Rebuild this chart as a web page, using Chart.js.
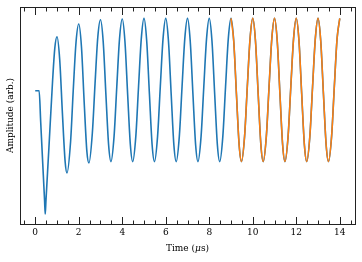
<!DOCTYPE html>
<html>
<head>
<meta charset="utf-8">
<script src="https://cdn.jsdelivr.net/npm/chart.js@4.4.1/dist/chart.umd.min.js"></script>
<style>
  html, body { margin: 0; padding: 0; background: #fff; }
  #wrap { width: 362px; height: 262px; }
</style>
</head>
<body>
<div id="wrap"><canvas id="chart" width="362" height="262"></canvas></div>
<script>
// time in microseconds, amplitude in arbitrary units
var timeUs = [
  0, 0.18, 0.25, 0.32, 0.43, 0.46, 0.49, 0.63, 0.8, 0.9, 1.0,
  1.125, 1.25, 1.375, 1.46, 1.625, 1.75, 1.875, 2.0,
  2.125, 2.25, 2.375, 2.47, 2.625, 2.75, 2.875, 3.0,
  3.125, 3.25, 3.375, 3.48, 3.625, 3.75, 3.875, 4.0,
  4.125, 4.25, 4.375, 4.48, 4.625, 4.75, 4.875, 5.0,
  5.125, 5.25, 5.375, 5.48, 5.625, 5.75, 5.875, 6.0,
  6.125, 6.25, 6.375, 6.48, 6.625, 6.75, 6.875, 7.0,
  7.125, 7.25, 7.375, 7.48, 7.625, 7.75, 7.875, 8.0,
  8.125, 8.25, 8.375, 8.48, 8.625, 8.75, 8.875, 9.0,
  9.125, 9.25, 9.375, 9.48, 9.625, 9.75, 9.875, 10.0,
  10.125, 10.25, 10.375, 10.48, 10.625, 10.75, 10.875, 11.0,
  11.125, 11.25, 11.375, 11.48, 11.625, 11.75, 11.875, 12.0,
  12.125, 12.25, 12.375, 12.48, 12.625, 12.75, 12.875, 13.0,
  13.125, 13.25, 13.375, 13.48, 13.625, 13.75, 13.875, 14.0
];
var amplitude = [
  0, 0, -0.43, -0.87, -1.55, -1.74, -1.57, -0.8, 0.15, 0.6, 0.76,
  0.44, -0.32, -1.0, -1.16, -0.72, 0.02, 0.68, 0.94,
  0.62, -0.16, -0.86, -1.02, -0.6, 0.1, 0.75, 1.0,
  0.69, -0.06, -0.77, -1.0, -0.64, 0.06, 0.73, 1.01,
  0.69, -0.06, -0.77, -1.0, -0.64, 0.06, 0.73, 1.02,
  0.7, -0.05, -0.77, -1.0, -0.64, 0.06, 0.73, 1.02,
  0.7, -0.05, -0.77, -1.0, -0.64, 0.06, 0.73, 1.02,
  0.7, -0.05, -0.77, -1.0, -0.64, 0.06, 0.73, 1.02,
  0.7, -0.05, -0.77, -1.0, -0.64, 0.06, 0.73, 1.02,
  0.7, -0.05, -0.77, -1.0, -0.64, 0.06, 0.73, 1.02,
  0.7, -0.05, -0.77, -1.0, -0.64, 0.06, 0.73, 1.02,
  0.7, -0.05, -0.77, -1.0, -0.64, 0.06, 0.73, 1.02,
  0.7, -0.05, -0.77, -1.0, -0.64, 0.06, 0.73, 1.02,
  0.7, -0.05, -0.77, -1.0, -0.64, 0.06, 0.73, 1.02
];
var highlightFrom = 9.0;   // orange segment starts here
var xTicks = [0, 2, 4, 6, 8, 10, 12, 14];

var fontFamily = "'DejaVu Serif', 'Liberation Serif', serif";
var fontSize = 9;

var bluePts = timeUs.map(function(t, i) { return { x: t, y: amplitude[i] }; });
var orangePts = bluePts.filter(function(p) { return p.x >= highlightFrom; });

// frame, inward ticks on top and bottom, axis titles
var framePlugin = {
  id: 'frame',
  afterDraw: function(chart) {
    var ctx = chart.ctx, a = chart.chartArea, xs = chart.scales.x;
    ctx.save();
    ctx.strokeStyle = '#222';
    ctx.lineWidth = 1;
    ctx.strokeRect(a.left + 0.5, a.top + 0.5, a.right - a.left, a.bottom - a.top);

    function tick(v, len) {
      var px = Math.round(xs.getPixelForValue(v)) + 0.5;
      ctx.beginPath();
      ctx.moveTo(px, a.bottom + 0.5); ctx.lineTo(px, a.bottom + 0.5 - len);
      ctx.moveTo(px, a.top + 0.5); ctx.lineTo(px, a.top + 0.5 + len);
      ctx.stroke();
    }
    xTicks.forEach(function(v) { tick(v, 7.5); });
    for (var m = Math.ceil(xs.min / 0.5) * 0.5; m <= xs.max; m += 0.5) {
      if (xTicks.indexOf(m) < 0) tick(m, 4);
    }

    // x title with italic mu
    ctx.fillStyle = '#000';
    ctx.textBaseline = 'alphabetic';
    var f = fontSize + 'px ' + fontFamily, fi = 'italic ' + fontSize + 'px ' + fontFamily;
    var parts = [['Time (', f], ['\u03bc', fi], ['s)', f]];
    var w = 0;
    parts.forEach(function(p) { ctx.font = p[1]; w += ctx.measureText(p[0]).width; });
    var x = (a.left + a.right) / 2 - w / 2;
    parts.forEach(function(p) {
      ctx.font = p[1];
      ctx.fillText(p[0], x, 250.5);
      x += ctx.measureText(p[0]).width;
    });

    // y title
    ctx.font = f;
    ctx.textAlign = 'center';
    ctx.translate(12.5, (a.top + a.bottom) / 2);
    ctx.rotate(-Math.PI / 2);
    ctx.fillText('Amplitude (arb.)', 0, 0);
    ctx.restore();
  }
};

var chart = new Chart(document.getElementById('chart').getContext('2d'), {
  type: 'line',
  data: {
    datasets: [{
      data: orangePts,
      borderColor: '#ff7f0e',
      borderWidth: 1.5,
      pointRadius: 0,
      fill: false,
      cubicInterpolationMode: 'monotone',
      order: 0
    }, {
      data: bluePts,
      borderColor: '#1f77b4',
      borderWidth: 1.6,
      pointRadius: 0,
      fill: false,
      cubicInterpolationMode: 'monotone',
      order: 1
    }]
  },
  options: {
    responsive: false,
    devicePixelRatio: 1,
    animation: false,
    layout: { padding: { top: 7, right: 7, left: 0, bottom: 0 } },
    plugins: { legend: { display: false }, tooltip: { enabled: false } },
    scales: {
      x: {
        type: 'linear',
        min: -0.7,
        max: 14.7,
        grid: { display: false, drawTicks: false },
        border: { display: false },
        ticks: {
          padding: 3,
          color: '#000',
          font: { family: fontFamily, size: fontSize },
          maxRotation: 0
        },
        afterBuildTicks: function(s) {
          s.ticks = xTicks.map(function(v) { return { value: v }; });
        },
        afterFit: function(s) { s.height = 38; }
      },
      y: {
        type: 'linear',
        min: -1.88,
        max: 1.18,
        grid: { display: false, drawTicks: false },
        border: { display: false },
        ticks: { display: false },
        afterFit: function(s) { s.width = 20; }
      }
    }
  },
  plugins: [framePlugin]
});
</script>
</body>
</html>
